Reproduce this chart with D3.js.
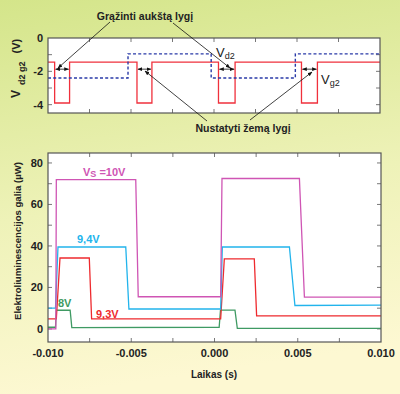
<!DOCTYPE html>
<html>
<head>
<meta charset="utf-8">
<script src="https://cdn.jsdelivr.net/npm/d3@7"></script>
<style>
  body { margin: 0; }
  svg { display: block; font-family: "Liberation Sans", Arial, sans-serif; }
</style>
</head>
<body>
<script>
// --- data ---
// top panel: gate / drain voltages (V) vs time (s)
const topRed = [[-0.010,-1.45],[-0.0096,-1.45],[-0.0096,-3.9],[-0.0087,-3.9],[-0.0087,-1.45],
  [-0.00464,-1.45],[-0.00464,-3.9],[-0.00374,-3.9],[-0.00374,-1.45],
  [0.00027,-1.45],[0.00027,-3.9],[0.00127,-3.9],[0.00127,-1.45],
  [0.00527,-1.45],[0.00527,-3.9],[0.00623,-3.9],[0.00623,-1.45],[0.010,-1.45]];
const topBlue = [[-0.010,-2.4],[-0.00518,-2.4],[-0.00518,-0.95],[-0.00017,-0.95],
  [-0.00017,-2.4],[0.0049,-2.4],[0.0049,-0.95],[0.010,-0.95]];
const dips = [[-0.0096,-0.0087],[-0.00464,-0.00374],[0.00027,0.00127],[0.00527,0.00623]];

// bottom panel: electroluminescence power (µW)
const s10 = [[-0.010,0],[-0.00953,0],[-0.00950,72],[-0.00473,72],[-0.00458,15.5],
  [0.00037,15.5],[0.00045,72.5],[0.0051,72.5],[0.0054,15.3],[0.010,15.3]];
const s94 = [[-0.010,10],[-0.00955,10],[-0.0094,39.5],[-0.00533,39.5],[-0.00514,9.6],
  [0.00037,9.6],[0.00047,39.5],[0.0045,39.5],[0.00483,11.3],[0.010,11.5]];
const s93 = [[-0.010,4.8],[-0.0095,4.8],[-0.00928,34.2],[-0.00752,34.2],[-0.00738,4.8],
  [0.00037,4.8],[0.00059,33.8],[0.00239,33.8],[0.00253,6.3],[0.010,6.3]];
const s8 = [[-0.010,0.8],[-0.00955,0.8],[-0.0095,9],[-0.00867,9],[-0.00857,0.6],
  [0.00028,0.8],[0.00036,9.1],[0.00123,9.1],[0.00137,0.3],[0.010,0.3]];

const xTicks = [-0.010,-0.005,0.000,0.005,0.010];
const topYTicks = [0,-2,-4];
const botYTicks = [0,20,40,60,80];

const W = 400, H = 394;
const svg = d3.select("body").append("svg").attr("width", W).attr("height", H);

const defs = svg.append("defs");
const grad = defs.append("linearGradient").attr("id","bg").attr("x1",0).attr("y1",0).attr("x2",0.15).attr("y2",1);
grad.append("stop").attr("offset","0%").attr("stop-color","#d4e58a");
grad.append("stop").attr("offset","55%").attr("stop-color","#eef2b8");
grad.append("stop").attr("offset","100%").attr("stop-color","#fdf8d2");
defs.append("marker").attr("id","ah").attr("viewBox","0 0 10 10").attr("refX",9).attr("refY",5)
  .attr("markerWidth",6).attr("markerHeight",6).attr("orient","auto-start-reverse")
  .append("path").attr("d","M0,1 L10,5 L0,9 Z").attr("fill","#111");

svg.append("rect").attr("width",W).attr("height",H).attr("fill","url(#bg)");

// scales
const xT = d3.scaleLinear().domain([-0.010,0.010]).range([48,380]);
const yT = d3.scaleLinear().domain([-4.5,0]).range([113,38]);
const xB = d3.scaleLinear().domain([-0.010,0.010]).range([48,381]);
const yB = d3.scaleLinear().domain([-6.3,84.8]).range([342,153]);

function frame(x, y, xMinor, yMinor) {
  const [x0,x1] = x.range(), [y1,y0] = y.range();
  svg.append("rect").attr("x",x0).attr("y",y0).attr("width",x1-x0).attr("height",y1-y0)
    .attr("fill","#fff");
  const g = svg.append("g").attr("stroke","#555").attr("stroke-width",0.8);
  xMinor.forEach(t => {
    g.append("line").attr("x1",x(t)).attr("x2",x(t)).attr("y1",y1).attr("y2",y1-4);
    g.append("line").attr("x1",x(t)).attr("x2",x(t)).attr("y1",y0).attr("y2",y0+4);
  });
  yMinor.forEach(v => {
    g.append("line").attr("x1",x0).attr("x2",x0+4).attr("y1",y(v)).attr("y2",y(v));
    g.append("line").attr("x1",x1).attr("x2",x1-4).attr("y1",y(v)).attr("y2",y(v));
  });
}
function border(x, y) {
  const [x0,x1] = x.range(), [y1,y0] = y.range();
  svg.append("rect").attr("x",x0).attr("y",y0).attr("width",x1-x0).attr("height",y1-y0)
    .attr("fill","none").attr("stroke","#555").attr("stroke-width",1.2);
}

const minorX = d3.range(-0.0075, 0.0076, 0.0025);
frame(xT, yT, minorX, [-1,-2,-3,-4]);
frame(xB, yB, minorX, d3.range(0, 81, 10));

// top panel lines
const lineT = d3.line().x(d => xT(d[0])).y(d => yT(d[1]));
svg.append("path").attr("d", lineT(topRed)).attr("fill","none")
  .attr("stroke","#f0303c").attr("stroke-width",1.3);
svg.append("path").attr("d", lineT(topBlue)).attr("fill","none")
  .attr("stroke","#2a3aa8").attr("stroke-width",1.4).attr("stroke-dasharray","3,2.2");

// small double arrows over each dip
dips.forEach(d => {
  svg.append("line").attr("x1", xT(d[0])+1).attr("x2", xT(d[1])-1)
    .attr("y1", yT(-1.87)).attr("y2", yT(-1.87))
    .attr("stroke","#111").attr("stroke-width",0.8)
    .attr("marker-start","url(#ah)").attr("marker-end","url(#ah)");
});
border(xT, yT);

// bottom panel lines
const lineB = d3.line().x(d => xB(d[0])).y(d => yB(d[1]));
[[s8,"#3f9a63"],[s93,"#ee2a2e"],[s94,"#22b4ec"],[s10,"#cf55b4"]].forEach(([s,c]) => {
  svg.append("path").attr("d", lineB(s)).attr("fill","none")
    .attr("stroke", c).attr("stroke-width",1.3);
});
border(xB, yB);

// tick labels
const lab = svg.append("g").attr("font-size",11).attr("font-weight","bold").attr("fill","#222");
topYTicks.forEach(v => lab.append("text").attr("x",43).attr("y",yT(v)+4)
  .attr("text-anchor","end").text(v === 0 ? "0" : "-" + Math.abs(v)));
botYTicks.forEach(v => lab.append("text").attr("x",43).attr("y",yB(v)+4)
  .attr("text-anchor","end").text(v));
xTicks.forEach(t => lab.append("text").attr("x",xB(t)).attr("y",357)
  .attr("text-anchor","middle").text(t.toFixed(3)));

// axis titles
svg.append("text").attr("x",214).attr("y",378).attr("text-anchor","middle")
  .attr("font-size",10).attr("font-weight","bold").attr("fill","#222").text("Laikas (s)");
svg.append("text").attr("transform","translate(21,241) rotate(-90)").attr("text-anchor","middle")
  .attr("font-size",9.6).attr("font-weight","bold").attr("fill","#222")
  .text("Elektroliuminescencijos galia (\u00b5W)");
const ty = svg.append("text").attr("transform","translate(20,98) rotate(-90)")
  .attr("font-weight","bold").attr("fill","#222").attr("xml:space","preserve");
ty.append("tspan").attr("font-size",12).text("V");
ty.append("tspan").attr("font-size",9).attr("dx",5).attr("dy",5).text("d2 g2");
ty.append("tspan").attr("font-size",11).attr("dx",8).attr("dy",-5).text("(V)");

// annotations
const ann = svg.append("g").attr("font-size",10.5).attr("font-weight","bold").attr("fill","#222");
ann.append("text").attr("x",145).attr("y",20).attr("text-anchor","middle").text("Grąžinti aukštą lygį");
ann.append("text").attr("x",243).attr("y",132).attr("text-anchor","middle").text("Nustatyti žemą lygį");
const vd = svg.append("text").attr("x",216).attr("y",57).attr("fill","#222");
vd.append("tspan").attr("font-size",13).text("V");
vd.append("tspan").attr("font-size",9).attr("dy",2).text("d2");
const vg = svg.append("text").attr("x",321).attr("y",84).attr("fill","#222");
vg.append("tspan").attr("font-size",13).text("V");
vg.append("tspan").attr("font-size",9).attr("dy",2).text("g2");

const arrows = [[110,22,58,68],[173,23,230,68],[207,121,145,71],[250,120,312,72]];
arrows.forEach(a => svg.append("line").attr("x1",a[0]).attr("y1",a[1]).attr("x2",a[2]).attr("y2",a[3])
  .attr("stroke","#111").attr("stroke-width",0.8).attr("marker-end","url(#ah)"));

// series labels
const sl = svg.append("g").attr("font-size",11).attr("font-weight","bold");
const v10 = sl.append("text").attr("x",83).attr("y",176).attr("fill","#cf55b4");
v10.append("tspan").text("V");
v10.append("tspan").attr("font-size",9).attr("dy",1).text("S");
v10.append("tspan").attr("dy",-1).text(" =10V");
sl.append("text").attr("x",77).attr("y",243).attr("fill","#22b4ec").text("9,4V");
sl.append("text").attr("x",96).attr("y",318).attr("fill","#ee2a2e").text("9,3V");
sl.append("text").attr("x",58).attr("y",307).attr("fill","#3f9a63").text("8V");
</script>
</body>
</html>
